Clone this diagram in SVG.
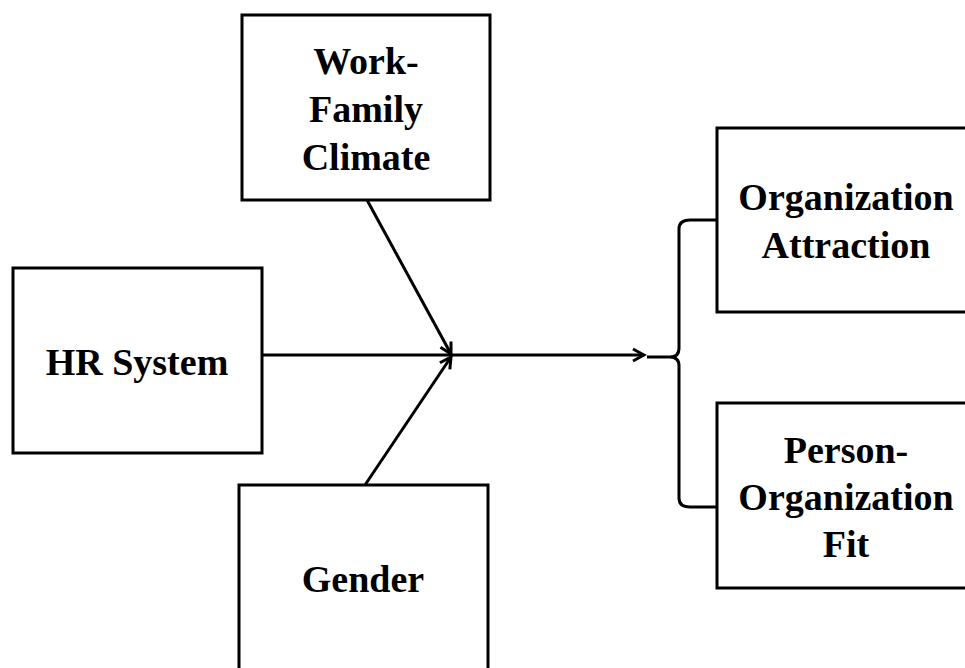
<svg xmlns="http://www.w3.org/2000/svg" width="965" height="668" viewBox="0 0 965 668">
<defs>
<style>
.box{fill:#fff;stroke:#000;stroke-width:3}
.lbl{font-family:"Liberation Serif","Times New Roman",serif;font-weight:bold;font-size:38px;fill:#000;text-anchor:middle}
.ln{fill:none;stroke:#000;stroke-width:3}
</style>
<marker id="arr" markerWidth="16" markerHeight="16" refX="13" refY="8" orient="auto" markerUnits="userSpaceOnUse">
<path d="M2,2 L13,8 L2,14" fill="none" stroke="#000" stroke-width="3"/>
</marker>
</defs>
<rect width="965" height="668" fill="#fff"/>
<g id="connectors">
<line class="ln" x1="262" y1="355" x2="644" y2="355" marker-end="url(#arr)"/>
<line class="ln" x1="367" y1="200" x2="451" y2="354" marker-end="url(#arr)"/>
<line class="ln" x1="365" y1="485" x2="451" y2="357" marker-end="url(#arr)"/>
<path class="ln" d="M647,357 H670 Q679,357 679,348 V229 Q679,220 690,220 H717 M670,357 Q679,357 679,366 V498 Q679,507 690,507 H717"/>
</g>
<g id="work-family-climate">
<rect class="box" x="242" y="15" width="248" height="185"/>
<text class="lbl" x="366" y="74">Work-</text>
<text class="lbl" x="366" y="122">Family</text>
<text class="lbl" x="366" y="170">Climate</text>
</g>
<g id="hr-system">
<rect class="box" x="13" y="268" width="249" height="185"/>
<text class="lbl" x="137" y="375">HR System</text>
</g>
<g id="gender">
<rect class="box" x="239" y="485" width="249" height="200"/>
<text class="lbl" x="363" y="592">Gender</text>
</g>
<g id="organization-attraction">
<rect class="box" x="717" y="128" width="260" height="184"/>
<text class="lbl" x="846" y="210">Organization</text>
<text class="lbl" x="846" y="258">Attraction</text>
</g>
<g id="person-organization-fit">
<rect class="box" x="717" y="403" width="260" height="185"/>
<text class="lbl" x="846" y="463">Person-</text>
<text class="lbl" x="846" y="510">Organization</text>
<text class="lbl" x="846" y="557">Fit</text>
</g>
</svg>
